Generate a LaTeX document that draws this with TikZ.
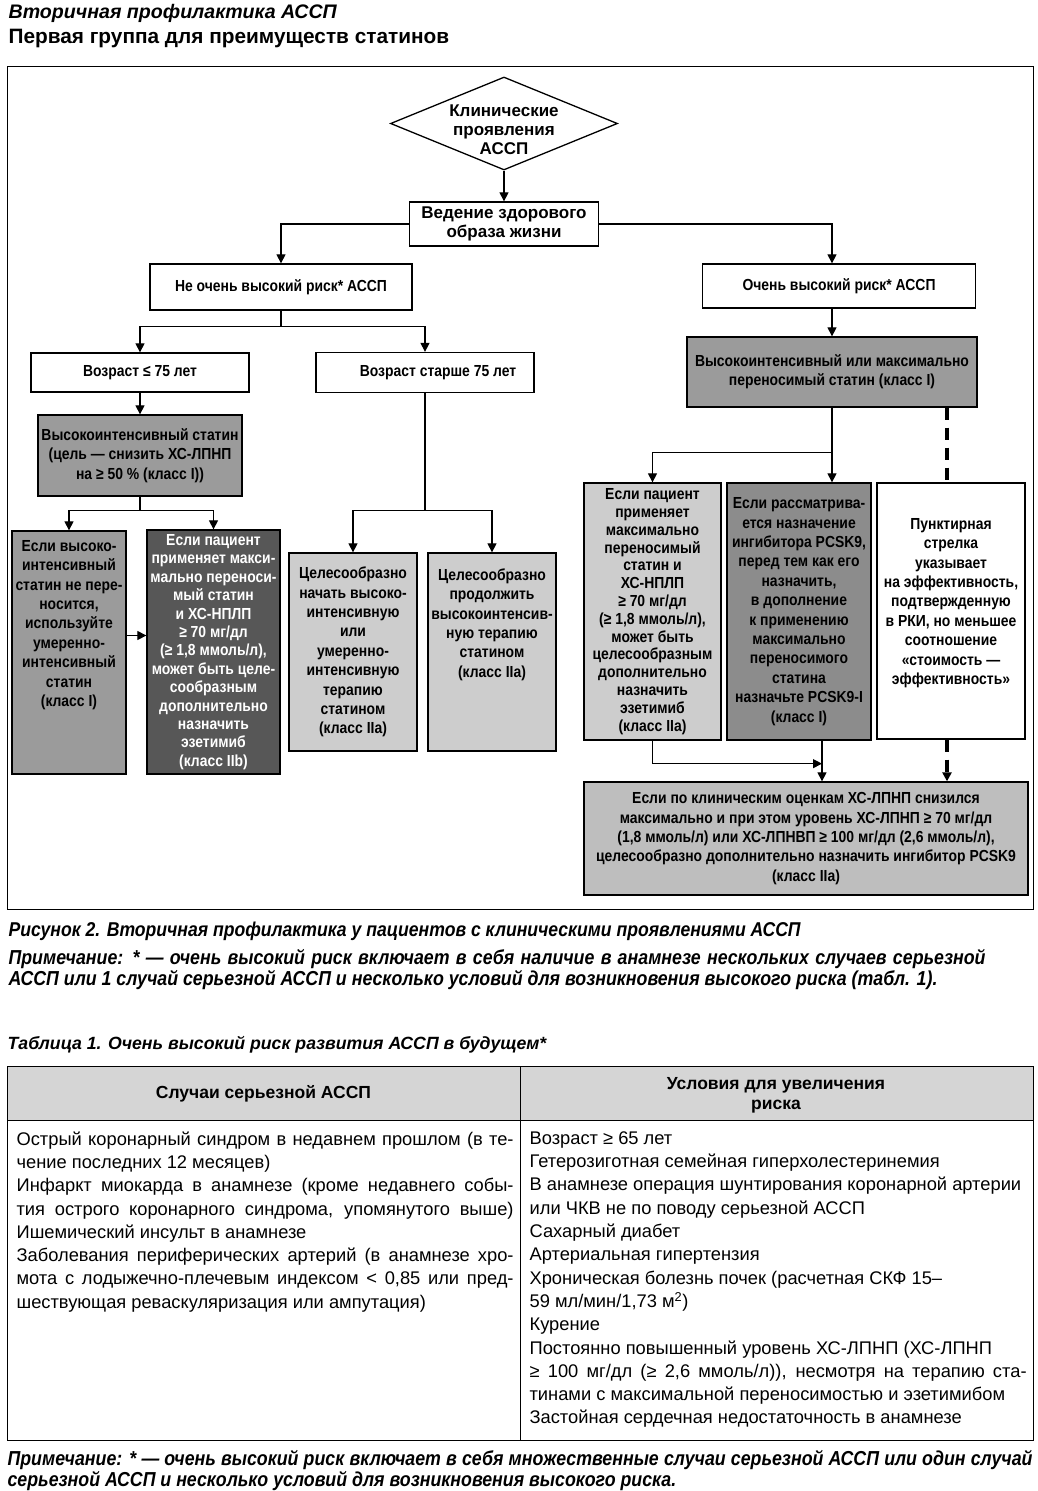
\documentclass[tikz,border=0pt]{standalone}
\usepackage{fontspec}
\setmainfont{Liberation Sans}
\newfontfamily\narrowfont{Liberation Sans}[FakeStretch=0.87]
\newfontfamily\notefont{Liberation Sans}[FakeStretch=0.88]
\usetikzlibrary{arrows.meta, positioning, shapes.geometric}
\definecolor{boxgray}{HTML}{9B9B9B}
\definecolor{boxdark}{HTML}{575757}
\definecolor{boxlight}{HTML}{CDCDCD}
\definecolor{boxmid}{HTML}{8C8C8C}
\definecolor{boxfinal}{HTML}{BEBEBE}
\definecolor{headgray}{HTML}{D5D5D5}

\begin{document}
\begin{tikzpicture}[x=1pt,y=-1pt,on grid,line width=1.2pt,
    >={Triangle[width=9pt,length=9pt]}]
    \tikzstyle{box}=[draw,line width=1.3pt,align=center,inner sep=0pt,
        font=\narrowfont\bfseries\fontsize{16}{19.4}\selectfont]
    \tikzstyle{wtext}=[align=center,font=\bfseries\fontsize{17}{19}\selectfont]
    \tikzstyle{wbox}=[box,wtext]
    \tikzstyle{tight}=[font=\narrowfont\bfseries\fontsize{16}{18.4}\selectfont]
    \tikzstyle{tighter}=[font=\narrowfont\bfseries\fontsize{16}{17.8}\selectfont]
    \tikzstyle{thickdash}=[line width=3.5pt,dash pattern=on 12pt off 8pt]
    \tikzstyle{heading}=[anchor=base west,inner sep=0pt]
    \tikzstyle{note}=[anchor=north west,inner sep=0pt,align=justify,
        font=\notefont\bfseries\itshape\fontsize{20.2}{21}\selectfont]
    \tikzstyle{cell}=[anchor=north west,inner sep=0pt,text width=497pt,align=justify,
        font=\fontsize{18.3}{23.3}\selectfont]

    \useasboundingbox (0,0) rectangle (1037,1491);

    % titles
    \node[heading,font=\bfseries\itshape\fontsize{19.6}{24}\selectfont] (title) at (8,19) {Вторичная профилактика АССП};
    \node[heading,font=\bfseries\fontsize{20.8}{24}\selectfont] (subtitle) at (8,43) {Первая группа для преимуществ статинов};

    % flowchart
    \draw[line width=0.8pt] (7,66) rectangle (1033,909);

    \node[draw,line width=1.3pt,shape=diamond,inner sep=0pt,minimum width=227pt,minimum height=93pt,
        label={[wtext,yshift=-6pt]center:{Клинические\\проявления\\АССП}}] (clin) at (504,123.5) {};
    \node[wbox,minimum width=189pt,minimum height=44pt,below=100.5pt of clin] (life) {Ведение здорового\\образа жизни};

    \node[box,minimum width=262pt,minimum height=46pt] (nothigh) at (281,287) {Не очень высокий риск* АССП};
    \node[box,minimum width=273pt,minimum height=44pt] (veryhigh) at (839,286) {Очень высокий риск* АССП};

    \node[box,minimum width=218pt,minimum height=39pt] (young) at (140,372.5) {Возраст ≤ 75 лет};
    \node[box,minimum width=218pt,minimum height=40pt,right=285pt of young] (old) {\hspace*{26pt}Возраст старше 75 лет};

    \node[box,fill=boxgray,minimum width=204pt,minimum height=81pt] (histat) at (140,455.5) {Высокоинтенсивный статин\\(цель — снизить ХС-ЛПНП\\на ≥ 50 \% (класс I))};
    \node[box,fill=boxgray,minimum width=114pt,minimum height=243pt] (intol) at (69,652.5) {Если высоко-\\интенсивный\\статин не пере-\\носится,\\используйте\\умеренно-\\интенсивный\\статин\\(класс I)\\~\\~\\~};
    \node[box,tight,fill=boxdark,text=white,minimum width=133pt,minimum height=244pt] (maxL) at (213.5,652) {Если пациент\\применяет макси-\\мально переноси-\\мый статин\\и ХС-НПЛП\\≥ 70 мг/дл\\(≥ 1,8 ммоль/л),\\может быть целе-\\сообразным\\дополнительно\\назначить\\эзетимиб\\(класс IIb)};

    \node[box,fill=boxlight,minimum width=128pt,minimum height=198pt] (startold) at (353,652) {Целесообразно\\начать высоко-\\интенсивную\\или\\умеренно-\\интенсивную\\терапию\\статином\\(класс IIa)};
    \node[box,fill=boxlight,minimum width=128pt,minimum height=198pt,right=139pt of startold] (keepold) {Целесообразно\\продолжить\\высокоинтенсив-\\ную терапию\\статином\\(класс IIa)\\~\\~\\~};

    \node[box,fill=boxgray,minimum width=290pt,minimum height=70pt] (vhstat) at (832,372) {Высокоинтенсивный или максимально\\переносимый статин (класс I)};
    \node[box,tighter,fill=boxlight,minimum width=137pt,minimum height=257pt] (ezet) at (652.5,611.5) {Если пациент\\применяет\\максимально\\переносимый\\статин и\\ХС-НПЛП\\≥ 70 мг/дл\\(≥ 1,8 ммоль/л),\\может быть\\целесообразным\\дополнительно\\назначить\\эзетимиб\\(класс IIa)};
    \node[box,fill=boxmid,minimum width=144pt,minimum height=257pt] (pcsk) at (799,611.5) {Если рассматрива-\\ется назначение\\ингибитора PCSK9,\\перед тем как его\\назначить,\\в дополнение\\к применению\\максимально\\переносимого\\статина\\назначьте PCSK9-I\\(класс I)};
    \node[box,minimum width=148pt,minimum height=256pt] (dashnote) at (951,611) {Пунктирная\\стрелка\\указывает\\на эффективность,\\подтвержденную\\в РКИ, но меньшее\\соотношение\\«стоимость —\\эффективность»\\~};
    \node[box,fill=boxfinal,minimum width=444pt,minimum height=113pt] (pcskadd) at (806,838.5) {Если по клиническим оценкам ХС-ЛПНП снизился\\максимально и при этом уровень ХС-ЛПНП ≥ 70 мг/дл\\(1,8 ммоль/л) или ХС-ЛПНВП ≥ 100 мг/дл (2,6 ммоль/л),\\целесообразно дополнительно назначить ингибитор PCSK9\\(класс IIa)};

    \draw[->] (clin) -- (life);
    \draw[->] (life.west) -| (nothigh.north);
    \draw[->] (life.east) -| (vhstat.north |- veryhigh.north);

    \draw (nothigh.south) -- ++(0,16) coordinate (agesplit);
    \draw[->] (agesplit) -| (young.north);
    \draw[->] (agesplit) -| (old.north);

    \draw[->] (young) -- (histat);
    \draw (histat.south) -- ++(0,14) coordinate (histsplit);
    \draw[->] (histsplit) -| (intol.north);
    \draw[->] (histsplit) -| (maxL.north);
    \draw[->] ([yshift=17pt]intol.east) -- ([yshift=17pt]intol.east -| maxL.west);

    \draw (old.south) -- ++(0,117) coordinate (oldsplit);
    \draw[->] (oldsplit) -| (startold.north);
    \draw[->] (oldsplit) -| (keepold.north);

    \draw[->] (veryhigh.south -| vhstat.north) -- (vhstat.north);
    \draw (vhstat.south) -- ++(0,45) coordinate (vhsplit);
    \draw[->] (vhsplit) -| (ezet.north);
    \draw[->] (vhsplit) -- (vhsplit |- pcsk.north);
    \draw[thickdash] ([xshift=-4pt]dashnote.north |- vhstat.south) -- ([xshift=-4pt]dashnote.north);
    \draw[thickdash,->] ([xshift=-4pt]dashnote.south) -- ([xshift=-4pt]dashnote.south |- pcskadd.north);

    \coordinate (pcskout) at ([xshift=23pt]pcsk.south);
    \draw[->] (pcskout) -- (pcskout |- pcskadd.north);
    \draw[->] (ezet.south) |- ([yshift=-23pt]pcskout);

    % caption and notes
    \node[heading,font=\notefont\bfseries\itshape\fontsize{20}{21}\selectfont] (figcap) at (8,936) {Рисунок 2. Вторичная профилактика у пациентов с клиническими проявлениями АССП};
    \node[note,text width=977pt] (fignote) at (8,949) {Примечание: * — очень высокий риск включает в себя наличие в анамнезе нескольких случаев серьезной\linebreak АССП или 1 случай серьезной АССП и несколько условий для возникновения высокого риска (табл. 1).};

    % table
    \node[heading,font=\bfseries\itshape\fontsize{17.7}{20}\selectfont] (tabtitle) at (7,1049) {Таблица 1. Очень высокий риск развития АССП в будущем*};
    \fill[headgray] (7,1066) rectangle (1033,1120);
    \draw[line width=0.8pt] (7,1066) rectangle (1033,1440);
    \draw[line width=0.8pt] (7,1120) -- (1033,1120);
    \draw[line width=0.8pt] (520,1066) -- (520,1440);

    \node[font=\bfseries\fontsize{17.5}{20}\selectfont] (headL) at (263.5,1094) {Случаи серьезной АССП};
    \node[align=center,font=\bfseries\fontsize{17.5}{20}\selectfont] (headR) at (776,1095) {Условия для увеличения\\риска};

    \node[cell] (cases) at (16,1131) {Острый коронарный синдром в недавнем прошлом (в те-\linebreak чение последних 12 месяцев)\\ Инфаркт миокарда в анамнезе (кроме недавнего собы-\linebreak тия острого коронарного синдрома, упомянутого выше)\linebreak Ишемический инсульт в анамнезе\\ Заболевания периферических артерий (в анамнезе хро-\linebreak мота с лодыжечно-плечевым индексом < 0,85 или пред-\linebreak шествующая реваскуляризация или ампутация)};
    \node[cell] (conds) at (529,1131) {Возраст ≥ 65 лет\\ Гетерозиготная семейная гиперхолестеринемия\\ В анамнезе операция шунтирования коронарной артерии\\ или ЧКВ не по поводу серьезной АССП\\ Сахарный диабет\\ Артериальная гипертензия\\ Хроническая болезнь почек (расчетная СКФ 15–\\ 59 мл/мин/1,73 м\textsuperscript{2})\\ Курение\\ Постоянно повышенный уровень ХС-ЛПНП (ХС-ЛПНП\\ ≥ 100 мг/дл (≥ 2,6 ммоль/л)), несмотря на терапию ста-\linebreak тинами с максимальной переносимостью и эзетимибом\\ Застойная сердечная недостаточность в анамнезе};

    \node[note,text width=1025pt] (tabnote) at (7,1450) {Примечание: * — очень высокий риск включает в себя множественные случаи серьезной АССП или один случай\linebreak серьезной АССП и несколько условий для возникновения высокого риска.};
\end{tikzpicture}
\end{document}
